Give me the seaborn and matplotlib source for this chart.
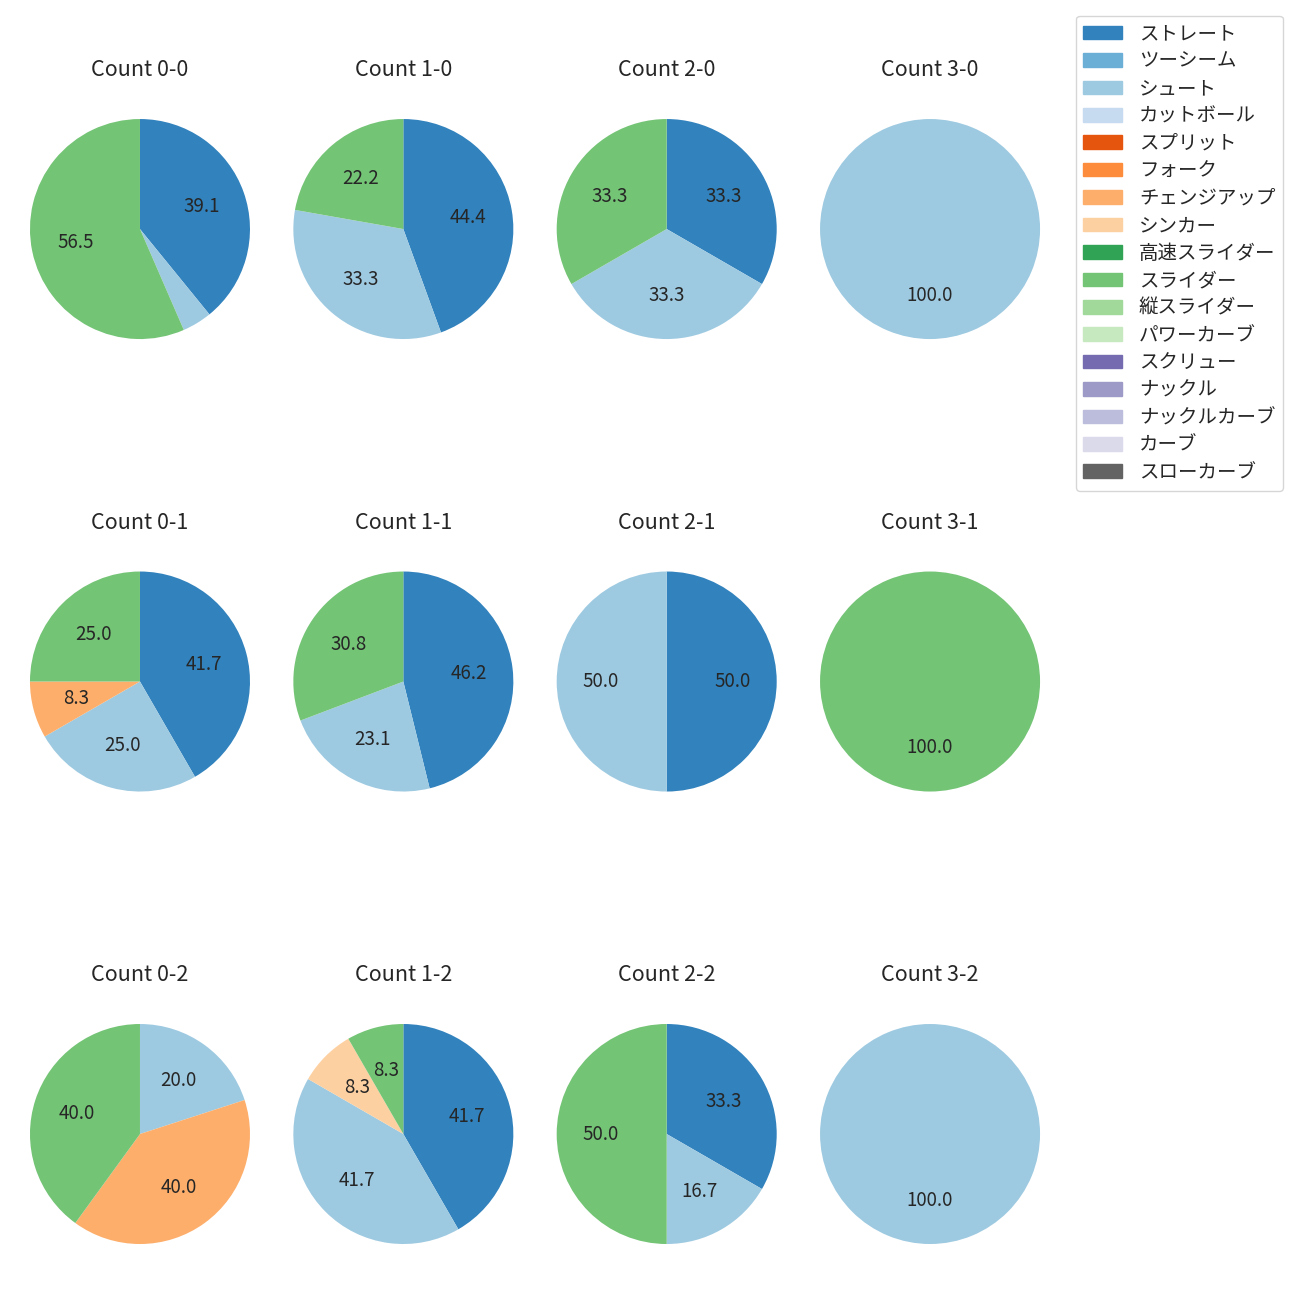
import matplotlib.pyplot as plt
import matplotlib.patches as mpatches
import seaborn as sns

sns.set_style('white')
plt.rcParams['font.family'] = ['Noto Sans CJK JP', 'DejaVu Sans']

# pitch types (legend order) and colours
pitch_types = ['ストレート', 'ツーシーム', 'シュート', 'カットボール', 'スプリット', 'フォーク',
               'チェンジアップ', 'シンカー', '高速スライダー', 'スライダー', '縦スライダー',
               'パワーカーブ', 'スクリュー', 'ナックル', 'ナックルカーブ', 'カーブ', 'スローカーブ']
colors = sns.color_palette('tab20c', 20)[:16] + [(0.388, 0.388, 0.388)]

# pitch counts per ball-strike count (same order as pitch_types)
count_0_0 = [9, 0, 1, 0, 0, 0, 0, 0, 0, 13, 0, 0, 0, 0, 0, 0, 0]
count_1_0 = [4, 0, 3, 0, 0, 0, 0, 0, 0, 2, 0, 0, 0, 0, 0, 0, 0]
count_2_0 = [1, 0, 1, 0, 0, 0, 0, 0, 0, 1, 0, 0, 0, 0, 0, 0, 0]
count_3_0 = [0, 0, 1, 0, 0, 0, 0, 0, 0, 0, 0, 0, 0, 0, 0, 0, 0]
count_0_1 = [5, 0, 3, 0, 0, 0, 1, 0, 0, 3, 0, 0, 0, 0, 0, 0, 0]
count_1_1 = [6, 0, 3, 0, 0, 0, 0, 0, 0, 4, 0, 0, 0, 0, 0, 0, 0]
count_2_1 = [1, 0, 1, 0, 0, 0, 0, 0, 0, 0, 0, 0, 0, 0, 0, 0, 0]
count_3_1 = [0, 0, 0, 0, 0, 0, 0, 0, 0, 1, 0, 0, 0, 0, 0, 0, 0]
count_0_2 = [0, 0, 1, 0, 0, 0, 2, 0, 0, 2, 0, 0, 0, 0, 0, 0, 0]
count_1_2 = [5, 0, 5, 0, 0, 0, 0, 1, 0, 1, 0, 0, 0, 0, 0, 0, 0]
count_2_2 = [2, 0, 1, 0, 0, 0, 0, 0, 0, 3, 0, 0, 0, 0, 0, 0, 0]
count_3_2 = [0, 0, 1, 0, 0, 0, 0, 0, 0, 0, 0, 0, 0, 0, 0, 0, 0]

counts = {
    '0-0': count_0_0, '1-0': count_1_0, '2-0': count_2_0, '3-0': count_3_0,
    '0-1': count_0_1, '1-1': count_1_1, '2-1': count_2_1, '3-1': count_3_1,
    '0-2': count_0_2, '1-2': count_1_2, '2-2': count_2_2, '3-2': count_3_2,
}


def pct_label(p):
    # small slices get no label
    return f'{p:.1f}' if p >= 5 else ''


fig, axes = plt.subplots(3, 4, figsize=(13, 13))
fig.subplots_adjust(left=0.0019, right=0.8212, wspace=-0.0424,
                    top=0.9392, bottom=0.0123, hspace=0.5083)

for strikes in range(3):
    for balls in range(4):
        ax = axes[strikes, balls]
        key = f'{balls}-{strikes}'
        vals = counts[key]
        used = [i for i, v in enumerate(vals) if v > 0]
        ax.pie([vals[i] for i in used], colors=[colors[i] for i in used],
               autopct=pct_label, startangle=90, counterclock=False,
               wedgeprops={'linewidth': 0}, textprops={'fontsize': 13.5})
        ax.set_title(f'Count {key}', fontsize=15.5, pad=11)

handles = [mpatches.Patch(color=c, label=p) for p, c in zip(pitch_types, colors)]
fig.legend(handles=handles, loc='upper right', bbox_to_anchor=(0.987, 0.988),
           fontsize=14, labelspacing=0.33, handletextpad=0.85, borderaxespad=0)

plt.savefig('out.png', dpi=100)
